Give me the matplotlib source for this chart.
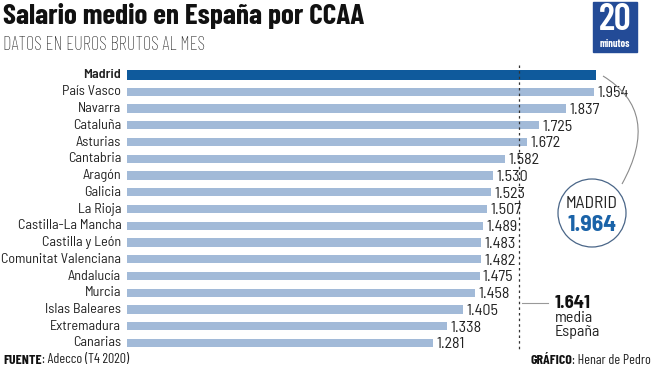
import matplotlib
matplotlib.use('Agg')
import matplotlib.pyplot as plt
from matplotlib.patches import Circle, PathPatch, Rectangle
from matplotlib.path import Path

#Datos
regiones = ['Madrid', 'País Vasco', 'Navarra', 'Cataluña', 'Asturias', 'Cantabria',
            'Aragón', 'Galicia', 'La Rioja', 'Castilla-La Mancha', 'Castilla y León',
            'Comunitat Valenciana', 'Andalucía', 'Murcia', 'Islas Baleares',
            'Extremadura', 'Canarias']
salarios = [1964, 1954, 1837, 1725, 1672, 1582, 1530, 1523, 1507, 1489, 1483,
            1482, 1475, 1458, 1405, 1338, 1281]
media_espana = 1641

plt.rcParams['font.family'] = ['Barlow Semi Condensed', 'DejaVu Sans']
CONDENSED = ['Barlow Condensed', 'DejaVu Sans']

W, H = 654, 369
fig = plt.figure(figsize=(W/100, H/100), dpi=100)

def fx(px):
    return px / W

def fy(py):
    return 1 - py / H

#Grafico de barras
ax = fig.add_axes([fx(127), fy(360), 1 - fx(127), (360 - 62) / H])
y = list(range(len(regiones)))
colores = ['#0f5a9c'] + ['#a2bad8'] * (len(regiones) - 1)
alturas = [0.55] + [0.48] * (len(regiones) - 1)
ax.barh(y, salarios, height=alturas, color=colores)
ax.set_xlim(0, (W - 127) / 0.239)
ax.set_ylim((360 - 75) / 16.75, (62 - 75) / 16.75)
ax.axis('off')

for i, (reg, val) in enumerate(zip(regiones, salarios)):
    ax.text(-24, i, reg, ha='right', va='center', fontsize=10.2, color='#222222',
            fontweight='semibold' if i == 0 else 'normal')
    if i > 0:
        ax.text(val + 14, i + 0.08, '{:,}'.format(val).replace(',', '.'),
                ha='left', va='center', fontsize=11.5, color='#222222')

ax.plot([media_espana, media_espana], [-0.6, 16.4], color='#333333', lw=0.9,
        ls=(0, (2, 2.5)))

#Capa de anotaciones en pixeles
ov = fig.add_axes([0, 0, 1, 1])
ov.set_xlim(0, W)
ov.set_ylim(H, 0)
ov.axis('off')

ov.text(3, 16, 'Salario medio en España por CCAA', fontsize=21, fontweight='bold',
        family=CONDENSED, color='#111111', va='center', ha='left')
ov.text(3, 45, 'DATOS EN EUROS BRUTOS AL MES', fontsize=13.5, fontweight='light',
        family=CONDENSED, color='#2a2a2a', va='center', ha='left')

#Logo
ov.add_patch(Rectangle((593, 2), 44, 50, color='#234b97'))
ov.text(615, 20, '20', fontsize=27, fontweight='semibold', family=CONDENSED,
        color='white', ha='center', va='center')
ov.text(615, 44, 'minutos', fontsize=7.5, fontweight='bold', family=CONDENSED,
        color='white', ha='center', va='center')

#Circulo Madrid
ov.add_patch(Circle((592, 213), 34, facecolor='white', edgecolor='#4a6688', lw=0.9))
ov.text(592, 204, 'MADRID', fontsize=12.5, color='#222222', ha='center', va='center')
ov.text(592, 225, '1.964', fontsize=17, fontweight='bold', color='#1a63a8',
        ha='center', va='center')
curva = Path([(603, 76), (662, 112), (622, 184)],
             [Path.MOVETO, Path.CURVE3, Path.CURVE3])
ov.add_patch(PathPatch(curva, facecolor='none', edgecolor='#8a8a8a', lw=0.8))

#Media
ov.plot([522, 548], [303, 303], color='#999999', lw=0.8)
ov.text(555, 303, '1.641', fontsize=13.5, fontweight='bold', color='#111111',
        ha='left', va='center')
ov.text(555, 318, 'media', fontsize=11.5, color='#222222', ha='left', va='center')
ov.text(555, 332, 'España', fontsize=11.5, color='#222222', ha='left', va='center')

#Pie
t1 = ov.text(3, 360, 'FUENTE', fontsize=10, fontweight='bold', family=CONDENSED,
             color='#111111', ha='left', va='center')
ov.annotate(': Adecco (T4 2020)', xy=(1, 0.5), xycoords=t1, fontsize=10,
            family=CONDENSED, color='#222222', ha='left', va='center')
t2 = ov.text(651, 360, ': Henar de Pedro', fontsize=10, family=CONDENSED,
             color='#222222', ha='right', va='center')
ov.annotate('GRÁFICO', xy=(0, 0.5), xycoords=t2, fontsize=10, fontweight='bold',
            family=CONDENSED, color='#111111', ha='right', va='center')

fig.savefig('out.png', dpi=100)
